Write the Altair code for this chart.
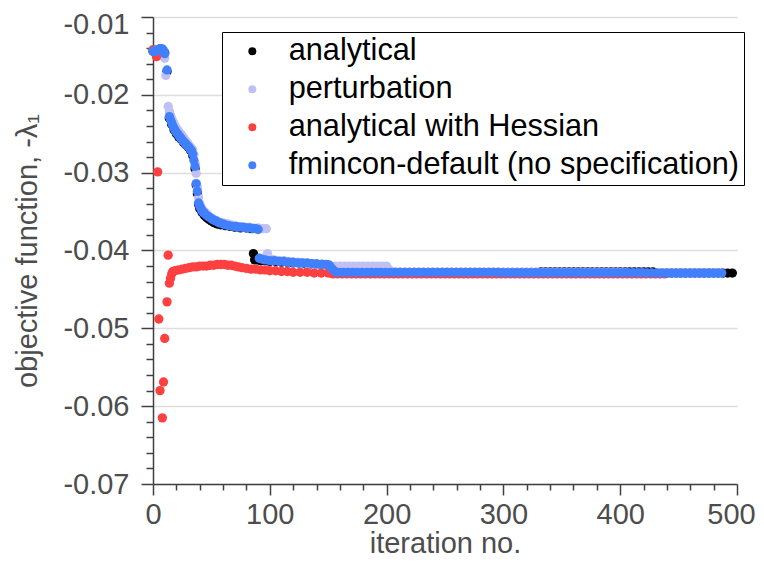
import altair as alt
import pandas as pd

SERIES = ["analytical", "perturbation", "analytical with Hessian",
          "fmincon-default (no specification)"]
COLORS = ["#000000", "#c0c0f5", "#ff4040", "#4080ff"]

# ---- analytical (black) ----
black_pts = [
    (0, -0.0144), (2, -0.0143), (4, -0.0142), (6, -0.0141), (8, -0.0142), (10, -0.0146),
    (12, -0.0170), (14, -0.0230), (16, -0.0238), (18, -0.0245), (20, -0.0250), (22, -0.0254),
    (24, -0.0257), (26, -0.0261), (28, -0.0264), (30, -0.0267), (32, -0.0271), (34, -0.0278),
    (36, -0.0295), (37, -0.0316), (38, -0.0327), (39, -0.0341), (40, -0.0346), (42, -0.0351),
    (44, -0.0355), (46, -0.0358), (48, -0.0360), (50, -0.0362), (52, -0.0364), (55, -0.0366),
    (58, -0.0367), (62, -0.0368), (66, -0.0369), (70, -0.0370), (75, -0.0371), (80, -0.0371),
    (84, -0.0372), (86, -0.0404), (87, -0.0412), (89, -0.0412), (92, -0.0413), (96, -0.0413),
    (100, -0.0414), (105, -0.0414), (110, -0.0415), (115, -0.0415), (120, -0.0416),
    (125, -0.0416), (130, -0.0417), (135, -0.0417), (140, -0.0418), (145, -0.0418),
    (150, -0.0419), (152, -0.0423), (154, -0.0426), (156, -0.0428),
]
black_tail_start, black_tail_step = 160, 4
black_tail = [
    -0.0428, -0.0428, -0.0428, -0.0428, -0.0428, -0.0428, -0.0428, -0.0428, -0.0428, -0.0428,
    -0.0428, -0.0428, -0.0428, -0.0428, -0.0428, -0.0428, -0.0428, -0.0428, -0.0428, -0.0428,
    -0.0428, -0.0428, -0.0428, -0.0428, -0.0428, -0.0428, -0.0428, -0.0428, -0.0428, -0.0428,
    -0.0428, -0.0428, -0.0428, -0.0428, -0.0428, -0.0428, -0.0428, -0.0428, -0.0428, -0.0428,
    -0.0428, -0.0428, -0.0428,
    -0.04275, -0.04275, -0.04275, -0.04275, -0.04275, -0.04275, -0.04275, -0.04275, -0.04275,
    -0.04275, -0.04275, -0.04275, -0.04275, -0.04275, -0.04275, -0.04275, -0.04275, -0.04275,
    -0.04275, -0.04275, -0.04275, -0.04275, -0.04275, -0.04275, -0.04275,
    -0.0429, -0.0429, -0.0429, -0.0429, -0.0429, -0.0429, -0.0429, -0.0429, -0.0429,
    -0.0429, -0.0429, -0.0429, -0.0429, -0.0429, -0.0429, -0.0429, -0.0429,
]

# ---- perturbation (lavender) ----
lav_pts = [
    (0, -0.0143), (2, -0.0143), (4, -0.0142), (6, -0.0142), (8, -0.0143), (10, -0.0153),
    (11, -0.0175), (13, -0.0215), (14, -0.0221), (15, -0.0226), (16, -0.0230), (17, -0.0234),
    (18, -0.0237), (19, -0.0240), (20, -0.0243), (21, -0.0245), (22, -0.0247), (23, -0.0249),
    (24, -0.0251), (25, -0.0253), (26, -0.0255), (27, -0.0257), (28, -0.0259), (29, -0.0261),
    (30, -0.0263), (31, -0.0265), (32, -0.0267), (33, -0.0269), (34, -0.0271), (35, -0.0277),
    (36, -0.0288), (37, -0.0301), (38, -0.0318), (39, -0.0332), (40, -0.0340), (41, -0.0344),
    (42, -0.0347), (44, -0.0350), (46, -0.0353), (48, -0.0356), (50, -0.0358), (52, -0.0360),
    (55, -0.0362), (58, -0.0364), (61, -0.0365), (64, -0.0366), (67, -0.0367), (70, -0.0368),
    (74, -0.0369), (78, -0.0370), (82, -0.0370), (86, -0.0371), (90, -0.0371), (94, -0.0372),
    (97, -0.0372), (98, -0.0404), (99, -0.0410), (101, -0.0411), (104, -0.0412),
    (108, -0.0413), (112, -0.0413), (116, -0.0414), (120, -0.0415), (124, -0.0415),
    (128, -0.0416), (132, -0.0417), (136, -0.0417), (140, -0.0418), (144, -0.0418),
    (148, -0.0419), (152, -0.0420), (156, -0.0420), (160, -0.0420), (164, -0.0420),
    (168, -0.0420), (172, -0.0420), (176, -0.0420), (180, -0.0420), (184, -0.0420),
    (188, -0.0420), (192, -0.0420), (196, -0.0420), (200, -0.0420), (202, -0.0424),
    (204, -0.0427),
]
lav_tail_start, lav_tail_step = 207, 4
lav_tail = [
    -0.0428, -0.0428, -0.0428, -0.0428, -0.0428, -0.0428, -0.0428, -0.0428, -0.0428, -0.0428,
    -0.0428, -0.0428, -0.0428, -0.0428, -0.0428, -0.0428, -0.0428, -0.0428, -0.0428, -0.0428,
    -0.0428, -0.0428, -0.0428, -0.0428, -0.0428, -0.0428, -0.0428, -0.0428, -0.0428, -0.0428,
    -0.0428, -0.0428, -0.0428, -0.0428, -0.0428, -0.0428, -0.0428, -0.0428, -0.0428, -0.0428,
    -0.0428, -0.0428, -0.0428, -0.0428, -0.0428, -0.0428, -0.0428, -0.0428, -0.0428, -0.0428,
    -0.0429, -0.0429, -0.0429, -0.0429, -0.0429, -0.0429, -0.0429, -0.0429, -0.0429, -0.0429,
    -0.0429, -0.0429, -0.0429, -0.0429, -0.0429, -0.0429, -0.0429, -0.0429, -0.0429, -0.0429,
]

# ---- analytical with Hessian (red) ----
red_pts = [
    (0, -0.0142), (1, -0.0144), (3, -0.0151), (4, -0.0299), (5, -0.0488), (6, -0.0580),
    (8, -0.0615), (9, -0.0569), (10, -0.0513), (12, -0.0466), (13, -0.0406), (14, -0.0442),
    (15, -0.0436), (16, -0.0430), (17, -0.0427), (19, -0.0426), (22, -0.0425), (25, -0.0424),
    (28, -0.0423), (31, -0.0422), (34, -0.0421), (37, -0.0421), (40, -0.0420), (43, -0.0420),
    (46, -0.0420), (49, -0.0419), (52, -0.0419), (55, -0.0418), (58, -0.0418), (61, -0.0418),
    (64, -0.0419), (67, -0.0419), (70, -0.0420), (73, -0.0421), (76, -0.0422), (80, -0.0423),
    (84, -0.0424), (88, -0.0424), (92, -0.0425), (96, -0.0425), (100, -0.0426),
    (105, -0.0426), (110, -0.0427), (115, -0.0427), (120, -0.0428), (126, -0.0428),
    (132, -0.0428), (138, -0.0429), (144, -0.0429), (150, -0.0429),
]
red_tail_start, red_tail_step = 154, 4
red_tail = [
    -0.0430, -0.0430, -0.0430, -0.0430, -0.0430, -0.0430, -0.0430, -0.0430, -0.0430, -0.0430,
    -0.0430, -0.0430, -0.0430, -0.0430, -0.0430, -0.0430, -0.0430, -0.0430, -0.0430, -0.0430,
    -0.0430, -0.0430, -0.0430, -0.0430, -0.0430, -0.0430, -0.0430, -0.0430, -0.0430, -0.0430,
    -0.0430, -0.0430, -0.0430, -0.0430, -0.0430, -0.0430, -0.0430, -0.0430, -0.0430, -0.0430,
    -0.0430, -0.0430, -0.0430, -0.0430, -0.0430, -0.0430, -0.0430, -0.0430, -0.0430, -0.0430,
    -0.0430, -0.0430, -0.0430, -0.0430, -0.0430, -0.0430, -0.0430, -0.0430, -0.0430, -0.0430,
    -0.0430, -0.0430, -0.0430, -0.0430, -0.0430, -0.0430, -0.0430, -0.0430, -0.0430, -0.0430,
    -0.0430, -0.0430,
]

# ---- fmincon-default (blue) ----
blue_pts = [
    (0, -0.0144), (1, -0.0144), (2, -0.0144), (3, -0.0143), (4, -0.0143), (5, -0.0142),
    (6, -0.0141), (7, -0.0141), (8, -0.0141), (9, -0.0143), (10, -0.0147), (12, -0.0168),
    (14, -0.0228), (15, -0.0232), (16, -0.0236), (17, -0.0240), (18, -0.0243), (19, -0.0246),
    (20, -0.0248), (21, -0.0250), (22, -0.0252), (23, -0.0254), (24, -0.0256), (25, -0.0258),
    (26, -0.0260), (27, -0.0261), (28, -0.0263), (29, -0.0265), (30, -0.0266), (31, -0.0268),
    (32, -0.0270), (33, -0.0272), (34, -0.0276), (35, -0.0284), (36, -0.0292), (37, -0.0314),
    (38, -0.0324), (39, -0.0339), (40, -0.0343), (41, -0.0346), (42, -0.0349), (43, -0.0351),
    (44, -0.0352), (46, -0.0355), (48, -0.0357), (50, -0.0359), (52, -0.0361), (54, -0.0362),
    (56, -0.0364), (58, -0.0365), (60, -0.0366), (62, -0.0367), (65, -0.0368), (68, -0.0369),
    (71, -0.0369), (74, -0.0370), (77, -0.0370), (80, -0.0371), (83, -0.0371), (86, -0.0372),
    (88, -0.0372), (90, -0.0373), (91, -0.0410), (93, -0.0411), (96, -0.0412), (100, -0.0413),
    (104, -0.0413), (108, -0.0414), (112, -0.0414), (116, -0.0415), (120, -0.0415),
    (124, -0.0416), (128, -0.0416), (132, -0.0416), (136, -0.0417), (140, -0.0417),
    (144, -0.0418), (148, -0.0418), (151, -0.0419), (153, -0.0423), (155, -0.0426),
    (157, -0.0428),
]
blue_tail_start, blue_tail_step = 159, 4
blue_tail = [
    -0.0428, -0.0428, -0.0428, -0.0428, -0.0428, -0.0428, -0.0428, -0.0428, -0.0428, -0.0428,
    -0.0428, -0.0428, -0.0428, -0.0428, -0.0428, -0.0428, -0.0428, -0.0428, -0.0428, -0.0428,
    -0.0428, -0.0428, -0.0428, -0.0428, -0.0428, -0.0428, -0.0428, -0.0428, -0.0428, -0.0428,
    -0.0428, -0.0428, -0.0428, -0.0428, -0.0428,
    -0.04285, -0.04285, -0.04285, -0.04285, -0.04285, -0.04285, -0.04285, -0.04285, -0.04285,
    -0.04285, -0.04285, -0.04285, -0.04285, -0.04285, -0.04285, -0.04285, -0.04285, -0.04285,
    -0.04285, -0.04285, -0.04285, -0.04285, -0.04285, -0.04285, -0.04285, -0.04285, -0.04285,
    -0.04285, -0.04285, -0.04285, -0.04285,
    -0.0429, -0.0429, -0.0429, -0.0429, -0.0429, -0.0429, -0.0429, -0.0429, -0.0429,
    -0.0429, -0.0429, -0.0429, -0.0429, -0.0429, -0.0429, -0.0429, -0.0429,
]

X_TICKS = [20 * i for i in range(26)]
Y_TICKS = [round(-0.07 + 0.002 * i, 3) for i in range(31)]


def rows(name, pts, start, step, tail):
    out = [{"method": name, "iteration": it, "value": v} for it, v in pts]
    out += [{"method": name, "iteration": start + step * i, "value": v}
            for i, v in enumerate(tail)]
    return out


data = (rows(SERIES[0], black_pts, black_tail_start, black_tail_step, black_tail)
        + rows(SERIES[1], lav_pts, lav_tail_start, lav_tail_step, lav_tail)
        + rows(SERIES[2], red_pts, red_tail_start, red_tail_step, red_tail)
        + rows(SERIES[3], blue_pts, blue_tail_start, blue_tail_step, blue_tail))
df = pd.DataFrame(data)

FONT = "Liberation Sans"
AX = "#404040"
TXT = "#4d4d4d"
x_major = "datum.value % 100 == 0"
y_major = "abs(datum.value * 100 - round(datum.value * 100)) < 0.01"

x_axis = alt.Axis(
    values=X_TICKS, grid=False,
    labelExpr=f"{x_major} ? format(datum.value, 'd') : ''",
    tickSize={"condition": {"test": x_major, "value": 11}, "value": 6},
    labelOffset={"condition": {"test": "datum.value >= 500", "value": -6}, "value": 0},
    tickColor=AX, tickWidth=1.5, domainColor=AX, domainWidth=1.5,
    labelFont=FONT, labelFontSize=29, labelColor=TXT, labelPadding=5,
    titleFont=FONT, titleFontSize=29, titleColor=TXT, titleFontWeight="normal",
    titlePadding=0, labelFlush=False, labelOverlap=False,
)
y_axis = alt.Axis(
    values=Y_TICKS, grid=True,
    gridColor="#dedede", gridWidth=1.5,
    gridOpacity={"condition": {"test": y_major, "value": 1}, "value": 0},
    labelExpr=f"{y_major} ? ('-' + format(abs(datum.value), '.2f')) : ''",
    tickSize={"condition": {"test": y_major, "value": 12}, "value": 7},
    labelOffset={"condition": {"test": "datum.value > -0.0105", "value": 7}, "value": 0},
    tickColor=AX, tickWidth=1.5, domainColor=AX, domainWidth=1.5,
    labelFont=FONT, labelFontSize=29, labelColor=TXT, labelPadding=12,
    titleFont=FONT, titleFontSize=29, titleColor=TXT, titleFontWeight="normal",
    titlePadding=20, labelFlush=False, labelOverlap=False,
)

legend = alt.Legend(
    orient="none", legendX=69, legendY=15, title=None,
    strokeColor="black", fillColor="white", padding=4,
    symbolType="circle", symbolSize=64, symbolOpacity=1, symbolStrokeWidth=0,
    symbolOffset=11, labelOffset=21,
    labelFont=FONT, labelFontSize=30.7, labelColor="black", labelLimit=0,
    rowPadding=6,
)

chart = alt.Chart(df).mark_circle(size=87, opacity=1).encode(
    x=alt.X("iteration:Q", title="iteration no.",
            scale=alt.Scale(domain=[0, 500], nice=False, zero=False), axis=x_axis),
    y=alt.Y("value:Q", title="objective function, -λ₁",
            scale=alt.Scale(domain=[-0.07, -0.01], nice=False, zero=False), axis=y_axis),
    color=alt.Color("method:N", scale=alt.Scale(domain=SERIES, range=COLORS),
                    legend=legend),
).properties(
    width=584, height=467,
    autosize=alt.AutoSizeParams(type="none"),
    padding={"left": 145, "top": 9, "right": 19, "bottom": 84},
).configure_view(strokeWidth=0)

chart.save("out.html", embed_options={"renderer": "svg", "actions": False})
